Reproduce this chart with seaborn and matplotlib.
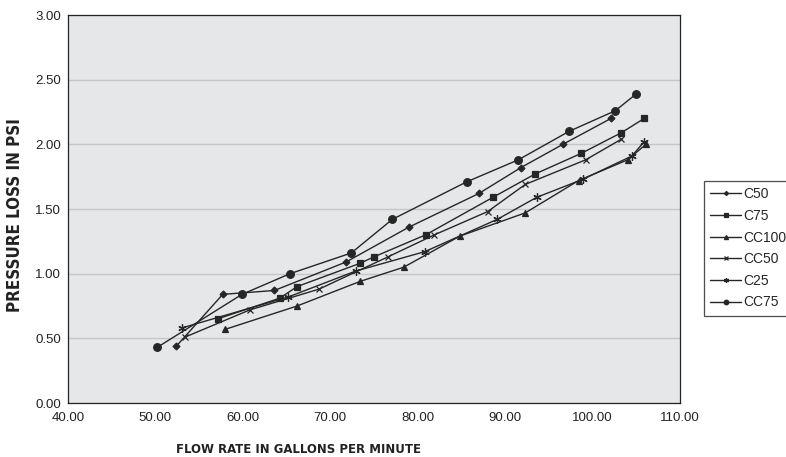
import matplotlib
matplotlib.use("Agg")
import matplotlib.pyplot as plt
import seaborn as sns
import pandas as pd

# ---- data ----
c50_x = [52.4, 57.7, 63.6, 71.8, 79.0, 87.0, 91.8, 96.6, 102.1]
c50_y = [0.44, 0.84, 0.87, 1.09, 1.36, 1.62, 1.82, 2.00, 2.20]

c75_x = [57.1, 64.2, 66.2, 73.4, 75.0, 80.9, 88.6, 93.4, 98.7, 103.3, 105.9]
c75_y = [0.65, 0.81, 0.90, 1.08, 1.13, 1.30, 1.59, 1.77, 1.93, 2.09, 2.20]

cc100_x = [58.0, 66.2, 73.4, 78.4, 84.8, 92.3, 98.4, 104.0, 106.1]
cc100_y = [0.57, 0.75, 0.94, 1.05, 1.29, 1.47, 1.72, 1.88, 2.00]

cc50_x = [53.4, 60.8, 68.7, 76.6, 81.9, 88.0, 92.3, 99.2, 103.3]
cc50_y = [0.51, 0.72, 0.88, 1.13, 1.30, 1.48, 1.69, 1.88, 2.04]

c25_x = [53.0, 65.2, 72.9, 80.8, 89.1, 93.6, 98.9, 104.5, 105.9]
c25_y = [0.58, 0.82, 1.02, 1.17, 1.42, 1.59, 1.73, 1.91, 2.02]

cc75_x = [50.2, 59.9, 65.4, 72.4, 77.1, 85.6, 91.5, 97.3, 102.6, 105.0]
cc75_y = [0.43, 0.84, 1.00, 1.16, 1.42, 1.71, 1.88, 2.10, 2.26, 2.39]

series_names = ["C50", "C75", "CC100", "CC50", "C25", "CC75"]
series_x = [c50_x, c75_x, cc100_x, cc50_x, c25_x, cc75_x]
series_y = [c50_y, c75_y, cc100_y, cc50_y, c25_y, cc75_y]

x_ticks = [40, 50, 60, 70, 80, 90, 100, 110]
y_ticks = [0.0, 0.5, 1.0, 1.5, 2.0, 2.5, 3.0]

# ---- style ----
sns.set_style("white")
plt.rcParams["font.family"] = ["Liberation Sans", "DejaVu Sans"]

markers = {"C50": "D", "C75": "s", "CC100": "^", "CC50": "x",
           "C25": (6, 2, 0), "CC75": "o"}
msizes = {"C50": 3.5, "C75": 5, "CC100": 5, "CC50": 5, "C25": 6, "CC75": 5.5}

W, H = 786, 457
fig = plt.figure(figsize=(W / 100, H / 100), dpi=100)
ax = fig.add_axes([68 / W, 1 - 403 / H, (680 - 68) / W, (403 - 15) / H])
ax.set_facecolor("#e6e7e8")

line_col = "#262626"
for name, xs, ys in zip(series_names, series_x, series_y):
    df = pd.DataFrame({"x": xs, "y": ys})
    sns.lineplot(data=df, x="x", y="y", ax=ax, sort=False, color=line_col,
                 linewidth=1.0, marker=markers[name], markersize=msizes[name],
                 markeredgecolor=line_col, markerfacecolor=line_col,
                 markeredgewidth=0.9, label=name)

ax.set_xlim(40, 110)
ax.set_ylim(0, 3)
ax.set_xticks(x_ticks)
ax.set_xticklabels([f"{v:.2f}" for v in x_ticks])
ax.set_yticks(y_ticks)
ax.set_yticklabels([f"{v:.2f}" for v in y_ticks])
ax.yaxis.grid(True, color="#c6c6c6", linewidth=1.0)
ax.xaxis.grid(False)
ax.set_axisbelow(True)
ax.tick_params(axis="both", direction="out", length=3.5, width=0.8,
               labelsize=9.5, colors="#222222", pad=1.5)
ax.tick_params(axis="x", pad=3)
for sp in ax.spines.values():
    sp.set_color("#222222")
    sp.set_linewidth(0.9)

ax.set_xlabel("FLOW RATE IN GALLONS PER MINUTE", fontsize=9.4, fontweight="bold",
              color="#222222", family=["DejaVu Sans"], fontstretch="condensed")
ax.xaxis.set_label_coords((298 - 68) / 612, (403 - 443) / 388)
ax.xaxis.label.set_va("top")
ax.set_ylabel("PRESSURE LOSS IN PSI", fontsize=12.2, fontweight="bold",
              color="#222222", family=["DejaVu Sans"], fontstretch="condensed")
ax.yaxis.set_label_coords((15 - 68) / 612, (403 - 215) / 388)
ax.yaxis.label.set_va("center")

leg = ax.legend(loc="upper left", bbox_to_anchor=(704 / W, 1 - 181 / H),
                bbox_transform=fig.transFigure, borderaxespad=0,
                frameon=True, fancybox=False, edgecolor="#222222",
                fontsize=10, handlelength=2.2, handletextpad=0.15,
                labelspacing=0.55, borderpad=0.45, markerscale=0.6)
leg.get_frame().set_linewidth(0.9)
leg.get_frame().set_facecolor("white")

fig.savefig("out.png", dpi=100)
